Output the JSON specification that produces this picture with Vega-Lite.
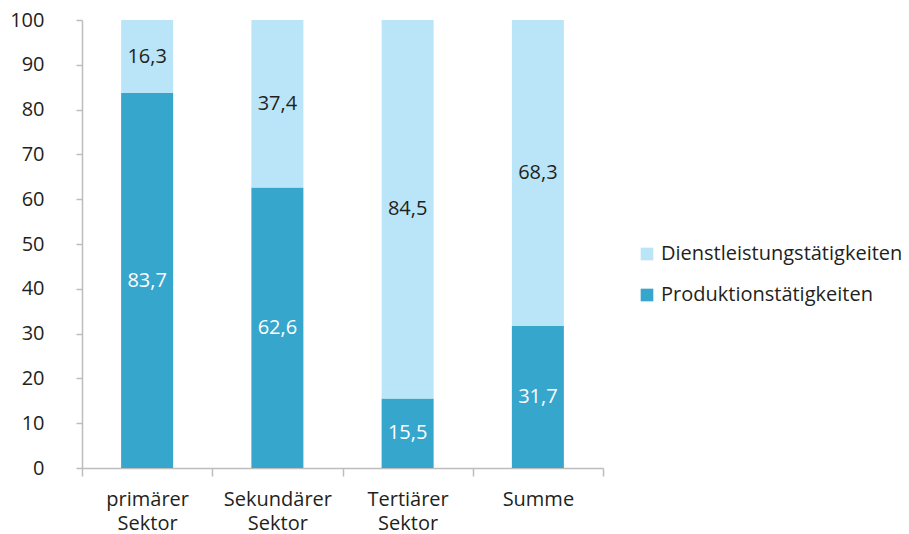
{
  "$schema": "https://vega.github.io/schema/vega-lite/v6.json",
  "width": 521,
  "height": 448,
  "autosize": {"type": "none"},
  "padding": {"left": 82, "top": 20, "right": 306, "bottom": 66},
  "background": "white",
  "config": {
    "view": {"stroke": null},
    "font": "Open Sans",
    "locale": {"number": {"decimal": ",", "thousands": ".", "grouping": [3], "currency": ["", " €"]}}
  },
  "data": {
    "values": [
      {"sektor": "primärer Sektor", "typ": "Produktionstätigkeiten", "wert": 83.7},
      {"sektor": "primärer Sektor", "typ": "Dienstleistungstätigkeiten", "wert": 16.3},
      {"sektor": "Sekundärer Sektor", "typ": "Produktionstätigkeiten", "wert": 62.6},
      {"sektor": "Sekundärer Sektor", "typ": "Dienstleistungstätigkeiten", "wert": 37.4},
      {"sektor": "Tertiärer Sektor", "typ": "Produktionstätigkeiten", "wert": 15.5},
      {"sektor": "Tertiärer Sektor", "typ": "Dienstleistungstätigkeiten", "wert": 84.5},
      {"sektor": "Summe", "typ": "Produktionstätigkeiten", "wert": 31.7},
      {"sektor": "Summe", "typ": "Dienstleistungstätigkeiten", "wert": 68.3}
    ]
  },
  "transform": [
    {"stack": "wert", "groupby": ["sektor"], "as": ["v0", "v1"], "sort": [{"field": "typ", "order": "descending"}]},
    {"calculate": "(datum.v0 + datum.v1) / 2", "as": "mid"}
  ],
  "encoding": {
    "x": {
      "field": "sektor",
      "type": "nominal",
      "sort": null,
      "scale": {"paddingInner": 0, "paddingOuter": 0},
      "axis": {
        "title": null,
        "labelAngle": 0,
        "labelExpr": "split(datum.label, ' ')",
        "labelFontSize": 20,
        "labelColor": "#231f20",
        "labelPadding": 13,
        "labelLineHeight": 24,
        "tickBand": "extent",
        "tickSize": 8,
        "tickColor": "#bdbdbd",
        "tickWidth": 1.5,
        "domainColor": "#bdbdbd",
        "domainWidth": 1.5
      }
    }
  },
  "layer": [
    {
      "mark": {"type": "bar", "width": 52},
      "encoding": {
        "y": {
          "field": "v0",
          "type": "quantitative",
          "scale": {"domain": [0, 100]},
          "axis": {
            "title": null,
            "values": [0, 10, 20, 30, 40, 50, 60, 70, 80, 90, 100],
            "grid": false,
            "labelFontSize": 20,
            "labelColor": "#231f20",
            "labelPadding": 32,
            "tickSize": 6,
            "tickColor": "#bdbdbd",
            "tickWidth": 1.5,
            "domainColor": "#bdbdbd",
            "domainWidth": 1.5
          }
        },
        "y2": {"field": "v1"},
        "color": {
          "field": "typ",
          "type": "nominal",
          "scale": {
            "domain": ["Dienstleistungstätigkeiten", "Produktionstätigkeiten"],
            "range": ["#bae5f9", "#36a6cd"]
          },
          "legend": {
            "title": null,
            "orient": "none",
            "legendX": 555,
            "legendY": 224,
            "symbolType": "square",
            "symbolSize": 160,
            "symbolStrokeWidth": 0,
            "labelFontSize": 20,
            "labelColor": "#231f20",
            "labelOffset": 4,
            "labelLimit": 400,
            "rowPadding": 21,
            "padding": 0
          }
        }
      }
    },
    {
      "mark": {"type": "text", "fontSize": 20, "baseline": "middle", "align": "center"},
      "encoding": {
        "y": {"field": "mid", "type": "quantitative"},
        "text": {"field": "wert", "type": "quantitative", "format": ".1f"},
        "color": {
          "field": "typ",
          "type": "nominal",
          "scale": {"domain": ["Dienstleistungstätigkeiten", "Produktionstätigkeiten"], "range": ["#231f20", "#ffffff"]},
          "legend": null
        }
      }
    }
  ],
  "resolve": {"scale": {"color": "independent"}}
}
